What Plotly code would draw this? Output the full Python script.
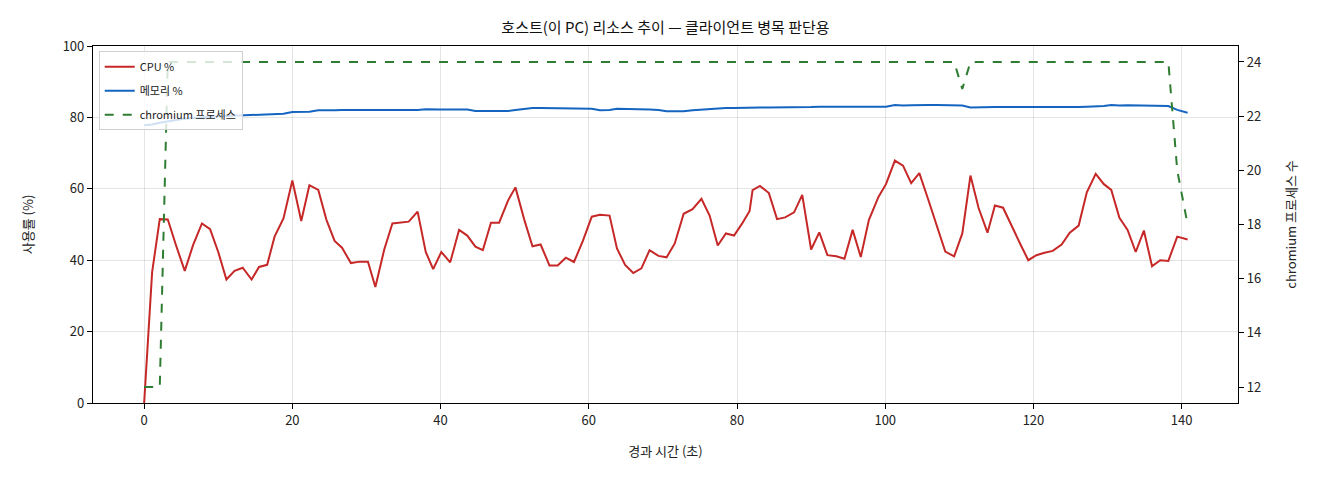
import plotly.graph_objects as go

# elapsed seconds of each sample
elapsed = [
    0, 1.08, 2.11, 3.19, 4.3, 5.48, 6.6, 7.8, 8.9, 10.0, 11.1, 12.2, 13.3, 14.5, 15.5, 16.6,
    17.6, 18.8, 20.0, 21.2, 22.3, 23.5, 24.6, 25.7, 26.7, 27.9, 29.1, 30.2, 31.2, 32.4, 33.5,
    34.6, 35.7, 36.9, 38.0, 39.0, 40.1, 41.3, 42.5, 43.6, 44.7, 45.7, 46.8, 47.9, 49.1, 50.1,
    51.3, 52.4, 53.5, 54.7, 55.8, 56.9, 58.0, 59.2, 60.4, 61.5, 62.8, 63.8, 64.9, 66.0, 67.1,
    68.2, 69.4, 70.5, 71.6, 72.8, 74.0, 75.2, 76.3, 77.4, 78.5, 79.6, 80.7, 81.7, 82.1, 83.1,
    84.3, 85.4, 86.5, 87.7, 88.8, 90.0, 91.1, 92.2, 93.4, 94.5, 95.6, 96.7, 97.8, 99.1, 100.1,
    101.3, 102.4, 103.5, 104.6, 105.8, 107.0, 108.1, 109.3, 110.4, 111.5, 112.6, 113.8, 114.8,
    115.9, 117.0, 118.3, 119.3, 120.4, 121.5, 122.6, 123.8, 124.9, 126.1, 127.2, 128.4, 129.5,
    130.5, 131.6, 132.7, 133.8, 134.9, 136.0, 137.1, 138.2, 139.4, 140.8,
]

cpu_pct = [
    0, 36.7, 51.5, 51.4, 44.2, 37.0, 44.2, 50.3, 48.7, 42.3, 34.6, 37.0, 37.9, 34.6, 38.1, 38.7,
    46.6, 51.7, 62.3, 51.0, 61.0, 59.7, 51.3, 45.4, 43.5, 39.2, 39.6, 39.6, 32.5, 43.0, 50.3,
    50.5, 50.8, 53.6, 42.3, 37.5, 42.3, 39.4, 48.5, 46.9, 43.8, 42.8, 50.5, 50.5, 56.7, 60.4,
    51.3, 43.9, 44.4, 38.5, 38.5, 40.7, 39.5, 45.4, 52.2, 52.7, 52.5, 43.3, 38.7, 36.4, 37.7,
    42.8, 41.2, 40.8, 44.7, 53.0, 54.3, 57.2, 52.5, 44.1, 47.5, 46.9, 50.3, 53.8, 59.6, 60.8,
    58.8, 51.5, 52.0, 53.4, 58.3, 43.0, 47.8, 41.4, 41.1, 40.4, 48.5, 40.9, 51.3, 57.8, 61.3,
    67.9, 66.5, 61.6, 64.4, 57.0, 49.2, 42.4, 41.1, 47.5, 63.7, 54.6, 47.7, 55.3,
    54.7, 50.1, 44.2, 40.0, 41.4, 42.1, 42.6, 44.4, 47.7, 49.7, 59.0, 64.2, 61.3,
    59.7, 51.9, 48.5, 42.3, 48.3, 38.3, 40.0, 39.8, 46.6, 45.8,
]

mem_pct = [
    77.8, 78.0, 78.5, 79.0, 79.3, 79.6, 79.8, 80.0, 80.1, 80.3, 80.4, 80.5, 80.6, 80.7, 80.8, 80.8,
    80.9, 81.0, 81.5, 81.5, 81.6, 82.0, 81.9, 82.0, 82.1, 82.1, 82.1, 82.1, 82.0, 82.1, 82.0,
    82.1, 82.2, 82.1, 82.3, 82.2, 82.2, 82.2, 82.1, 82.2, 81.8, 81.8, 81.8, 81.9, 81.8, 82.1,
    82.4, 82.6, 82.6, 82.6, 82.6, 82.6, 82.5, 82.4, 82.4, 82.0, 82.1, 82.4, 82.4, 82.4, 82.3,
    82.2, 82.1, 81.7, 81.7, 81.7, 82.0, 82.2, 82.3, 82.4, 82.6, 82.6, 82.7, 82.7, 82.7, 82.8,
    82.8, 82.8, 82.7, 82.8, 82.9, 82.9, 83.0, 83.0, 83.0, 83.0, 83.0, 82.9, 82.9, 82.9, 83.0,
    83.5, 83.3, 83.4, 83.5, 83.5, 83.5, 83.5, 83.3, 83.3, 82.8, 82.9, 82.8, 82.9,
    82.9, 82.9, 82.9, 82.9, 82.9, 82.9, 82.8, 82.7, 82.8, 82.9, 83.0, 83.1, 83.2,
    83.5, 83.3, 83.4, 83.4, 83.4, 83.3, 83.3, 83.2, 82.1, 81.3,
]

chromium_procs = [12, 12, 12] + [24] * 96 + [23] + [24] * 25 + [20, 18]

FONT = "Noto Sans CJK KR"
GRID = "rgba(0,0,0,0.1)"

fig = go.Figure()
fig.add_trace(go.Scatter(x=elapsed, y=cpu_pct, name="CPU %", mode="lines", legendgroup="cpu",
                         line=dict(color="#c62828", width=2)))
fig.add_trace(go.Scatter(x=elapsed, y=mem_pct, name="메모리 %", mode="lines", legendgroup="mem",
                         line=dict(color="#1565c0", width=2)))
fig.add_trace(go.Scatter(x=elapsed, y=chromium_procs, name="chromium 프로세스", mode="lines",
                         legendgroup="proc",
                         line=dict(color="#2e7d32", width=2, dash="dash"), yaxis="y2"))

fig.update_layout(
    width=1320, height=480,
    margin=dict(l=85, r=90, t=38, b=85),
    paper_bgcolor="white", plot_bgcolor="white",
    font=dict(family=FONT, size=13, color="#222"),
    title=dict(text="호스트(이 PC) 리소스 추이 — 클라이언트 병목 판단용", x=0.5, xref="paper",
               y=0.958, yanchor="middle", font=dict(size=15, color="#111")),
    xaxis=dict(range=[-6.9, 147.6], tickvals=[0, 20, 40, 60, 80, 100, 120, 140],
               showline=True, linecolor="black", linewidth=1.2, mirror=True,
               ticks="outside", ticklen=5, tickcolor="black",
               showgrid=True, gridcolor=GRID, zeroline=False,
               title=dict(text="경과 시간 (초)", font=dict(size=13), standoff=19)),
    yaxis=dict(range=[0, 100], tickvals=[0, 20, 40, 60, 80, 100],
               showline=True, linecolor="black", linewidth=1.2,
               ticks="outside", ticklen=5, tickcolor="black",
               showgrid=True, gridcolor=GRID, zeroline=False,
               title=dict(text="사용률 (%)", font=dict(size=13), standoff=26)),
    yaxis2=dict(range=[11.41, 24.59], tickvals=[12, 14, 16, 18, 20, 22, 24],
                overlaying="y", side="right",
                showline=True, linecolor="black", linewidth=1.2,
                ticks="outside", ticklen=5, tickcolor="black",
                showgrid=False, zeroline=False,
                title=dict(text="chromium 프로세스 수", font=dict(size=13), standoff=26)),
    legend=dict(x=0.005, y=0.985, xanchor="left", yanchor="top",
                bgcolor="rgba(255,255,255,0.8)", bordercolor="#d0d0d0", borderwidth=1,
                font=dict(size=11), tracegroupgap=5),
)

fig.write_html("out.html")
